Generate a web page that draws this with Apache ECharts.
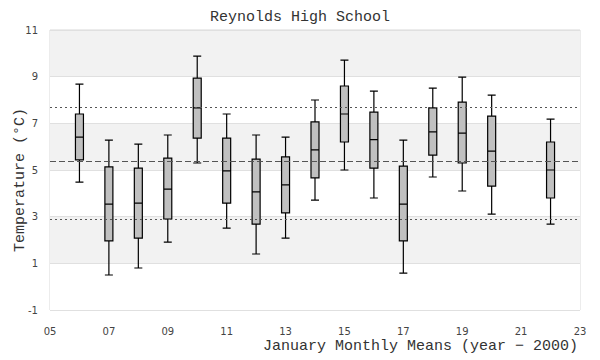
<!DOCTYPE html>
<html>
<head>
<meta charset="utf-8">
<script src="https://cdn.jsdelivr.net/npm/echarts@6/dist/echarts.min.js"></script>
<style>html,body{margin:0;padding:0;background:#fff}#c{width:600px;height:360px}</style>
</head>
<body>
<div id="c"></div>
<script>
var years   = [6, 7, 8, 9, 10, 11, 12, 13, 14, 15, 16, 17, 18, 19, 20, 22];
var mins    = [4.48, 0.50, 0.80, 1.91, 5.30, 2.51, 1.40, 2.08, 3.71, 5.00, 3.80, 0.58, 4.70, 4.10, 3.11, 2.68];
var q1s     = [5.43, 1.96, 2.08, 2.90, 6.37, 3.58, 2.68, 3.16, 4.66, 6.20, 5.08, 1.96, 5.64, 5.30, 4.31, 3.80];
var medians = [6.41, 3.54, 3.58, 4.18, 7.66, 4.96, 4.06, 4.36, 5.86, 7.40, 6.30, 3.54, 6.63, 6.58, 5.81, 5.00];
var q3s     = [7.40, 5.13, 5.08, 5.51, 8.94, 6.37, 5.47, 5.56, 7.06, 8.60, 7.48, 5.17, 7.66, 7.91, 7.31, 6.20];
var maxs    = [8.68, 6.28, 6.11, 6.50, 9.88, 7.40, 6.50, 6.41, 8.00, 9.71, 8.38, 6.28, 8.51, 8.98, 8.21, 7.18];
var refMean = 5.38;
var refUpper = 7.70;
var refLower = 2.90;
var xTicks = [5, 23, 2];
var yTicks = [-1, 11, 2];

var boxData = years.map(function (y, i) {
  return [y, mins[i], q1s[i], medians[i], q3s[i], maxs[i]];
});

var mono = '"Liberation Mono", "DejaVu Sans Mono", monospace';
var sans = '"DejaVu Sans", sans-serif';

var chart = echarts.init(document.getElementById('c'), null, {renderer: 'svg'});
chart.setOption({
  animation: false,
  title: {
    text: 'Reynolds High School',
    left: 'center',
    top: 5,
    textStyle: {fontFamily: mono, fontSize: 15, fontWeight: 'normal', color: '#333'}
  },
  graphic: [{
    type: 'text',
    right: 22,
    top: 339,
    silent: true,
    style: {text: 'January Monthly Means (year \u2212 2000)', font: '15px ' + mono, fill: '#333'}
  }],
  grid: {left: 50, right: 20, top: 30, bottom: 50, containLabel: false, outerBoundsMode: 'none', show: true, borderColor: '#d9d9d9', borderWidth: 1, backgroundColor: 'transparent'},
  xAxis: {
    type: 'value',
    min: xTicks[0], max: xTicks[1], interval: xTicks[2],
    axisLine: {show: false},
    axisTick: {show: false},
    splitLine: {show: false},
    axisLabel: {
      margin: 16,
      fontFamily: sans, fontSize: 10, color: '#444',
      formatter: function (v) { return (v < 10 ? '0' : '') + v; }
    }
  },
  yAxis: {
    type: 'value',
    min: yTicks[0], max: yTicks[1], interval: yTicks[2],
    axisLine: {show: false},
    axisTick: {show: false},
    splitLine: {show: true, lineStyle: {color: '#e0e0e0', width: 1}},
    splitArea: {show: true, areaStyle: {color: ['#ffffff', '#f2f2f2']}},
    axisLabel: {margin: 12, fontFamily: sans, fontSize: 10, color: '#444'},
    name: 'Temperature (\u00b0C)',
    nameLocation: 'middle',
    nameGap: 22,
    nameMoveOverlap: false,
    nameTextStyle: {fontFamily: mono, fontSize: 15, color: '#333', padding: [0, 20, 0, 0]}
  },
  series: [{
    type: 'boxplot',
    data: boxData,
    boxWidth: [8, 8],
    itemStyle: {color: '#c0c0c0', borderColor: '#000', borderWidth: 1.2},
    emphasis: {disabled: true},
    markLine: {
      silent: true,
      symbol: 'none',
      label: {show: false},
      data: [
        {yAxis: refMean, lineStyle: {type: [6, 3], color: '#555', width: 1.2}},
        {yAxis: refUpper, lineStyle: {type: [2, 3], color: '#555', width: 1.2}},
        {yAxis: refLower, lineStyle: {type: [2, 3], color: '#555', width: 1.2}}
      ]
    }
  }]
});
</script>
</body>
</html>
